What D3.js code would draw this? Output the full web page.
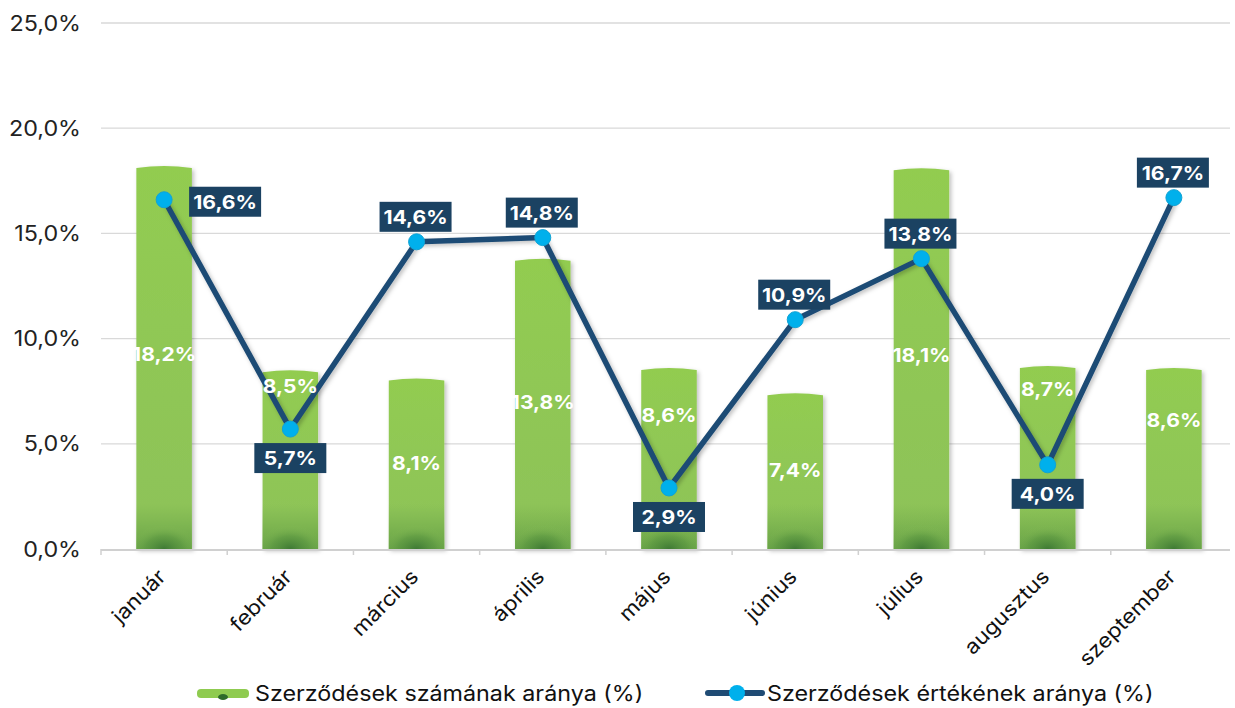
<!DOCTYPE html>
<html>
<head>
<meta charset="utf-8">
<script src="https://cdn.jsdelivr.net/npm/d3@7"></script>
<style>
  body { margin: 0; background: #fff; }
  svg text { font-family: Inter, "Liberation Sans", sans-serif; }
</style>
</head>
<body>
<svg id="chart" width="1235" height="708"></svg>
<script>
// adatok
var months = ['január', 'február', 'március', 'április', 'május', 'június', 'július', 'augusztus', 'szeptember'];
var countShare = [18.2, 8.5, 8.1, 13.8, 8.6, 7.4, 18.1, 8.7, 8.6];   // oszlopok
var valueShare = [16.6, 5.7, 14.6, 14.8, 2.9, 10.9, 13.8, 4.0, 16.7]; // vonal
var yTicks = [0, 5, 10, 15, 20, 25];
// címkék elhelyezése
var lineLabelSide = ['right', 'below', 'above', 'above', 'below', 'above', 'above', 'below', 'above'];
var barLabelAt = [9.27, 7.77, 4.09, 6.99, 6.37, 3.75, 9.22, 7.6, 6.13];

var svg = d3.select('#chart');
var left = 101;
var sx = 1.11;   // a szövegek kissé szélesebbek

var x = d3.scaleBand().domain(months).range([left, 1237]).paddingInner(0.56).paddingOuter(0.28);
var y = d3.scaleLinear().domain([0, 25]).range([549, 23]);
var fmt = function (v) { return v.toFixed(1).replace('.', ',') + '%'; };
var at = function (px, py) { return 'translate(' + px + ',' + py + ') scale(' + sx + ',1)'; };

var defs = svg.append('defs');
var grad = defs.append('linearGradient').attr('id', 'barGrad').attr('x1', 0).attr('y1', 0).attr('x2', 0).attr('y2', 1);
grad.append('stop').attr('offset', '0%').attr('stop-color', '#92cc50');
grad.append('stop').attr('offset', '100%').attr('stop-color', '#8dc25a');
var fade = defs.append('linearGradient').attr('id', 'barFade').attr('x1', 0).attr('y1', 0).attr('x2', 0).attr('y2', 1);
fade.append('stop').attr('offset', '0%').attr('stop-color', '#6aa446').attr('stop-opacity', 0);
fade.append('stop').attr('offset', '100%').attr('stop-color', '#5d9a42').attr('stop-opacity', 0.8);
var bottom = defs.append('radialGradient').attr('id', 'barBottom').attr('cx', 0.5).attr('cy', 1).attr('r', 0.6);
bottom.append('stop').attr('offset', '0%').attr('stop-color', '#3a7532').attr('stop-opacity', 0.9);
bottom.append('stop').attr('offset', '55%').attr('stop-color', '#4f8c3b').attr('stop-opacity', 0.4);
bottom.append('stop').attr('offset', '100%').attr('stop-color', '#8ec25a').attr('stop-opacity', 0);
var shadow = defs.append('filter').attr('id', 'shadow').attr('x', -0.2).attr('y', -0.2).attr('width', 1.4).attr('height', 1.4);
shadow.append('feDropShadow').attr('dx', 2).attr('dy', 2).attr('stdDeviation', 2).attr('flood-color', '#000').attr('flood-opacity', 0.25);

// rácsvonalak
svg.append('g').selectAll('line').data(yTicks.slice(1)).enter().append('line')
    .attr('x1', left).attr('x2', 1230)
    .attr('y1', function (d) { return y(d); }).attr('y2', function (d) { return y(d); })
    .attr('stroke', '#d9d9d9').attr('stroke-width', 1.3);

// y tengely
svg.append('g').selectAll('text').data(yTicks).enter().append('text')
    .attr('transform', function (d) { return at(81, y(d) + 7.5); })
    .attr('text-anchor', 'end').attr('font-size', 21).attr('fill', '#222')
    .text(fmt);

// oszlopok
var bars = svg.append('g').selectAll('g').data(months).enter().append('g');
bars.append('path')
    .attr('filter', 'url(#shadow)')
    .attr('fill', 'url(#barGrad)')
    .attr('d', function (m, i) {
        var x0 = x(m), w = x.bandwidth(), top = y(countShare[i]), b = y(0);
        return 'M' + x0 + ',' + b + 'L' + x0 + ',' + (top + 2) +
            'Q' + (x0 + w / 2) + ',' + (top - 2) + ' ' + (x0 + w) + ',' + (top + 2) +
            'L' + (x0 + w) + ',' + b + 'Z';
    });
bars.append('rect')
    .attr('x', function (m) { return x(m); })
    .attr('y', y(0) - 45)
    .attr('width', x.bandwidth()).attr('height', 45)
    .attr('fill', 'url(#barFade)');
bars.append('rect')
    .attr('x', function (m) { return x(m); })
    .attr('y', y(0) - 40)
    .attr('width', x.bandwidth()).attr('height', 40)
    .attr('fill', 'url(#barBottom)');

// x tengely
svg.append('line').attr('x1', left).attr('x2', 1230).attr('y1', y(0) + 1).attr('y2', y(0) + 1)
    .attr('stroke', '#d0d0d0').attr('stroke-width', 2);
var step = x.step();
svg.append('g').selectAll('line').data(d3.range(months.length + 1)).enter().append('line')
    .attr('x1', function (k) { return left + k * step; })
    .attr('x2', function (k) { return left + k * step; })
    .attr('y1', y(0)).attr('y2', y(0) + 6)
    .attr('stroke', '#d0d0d0').attr('stroke-width', 1.5);
svg.append('g').selectAll('text').data(months).enter().append('text')
    .attr('transform', function (m) {
        return 'translate(' + (x(m) + x.bandwidth() / 2 + 3) + ',' + 578 + ') rotate(-45) scale(1.1,1)';
    })
    .attr('text-anchor', 'end').attr('font-size', 20.5).attr('fill', '#111')
    .text(function (m) { return m; });

// vonal
var cx = function (i) { return x(months[i]) + x.bandwidth() / 2; };
var line = d3.line().x(function (d, i) { return cx(i); }).y(function (d) { return y(d); });
svg.append('path').datum(valueShare)
    .attr('d', line).attr('fill', 'none')
    .attr('stroke', '#1f4b74').attr('stroke-width', 5.5).attr('stroke-linejoin', 'round')
    .attr('filter', 'url(#shadow)');
svg.append('g').selectAll('circle').data(valueShare).enter().append('circle')
    .attr('cx', function (d, i) { return cx(i); })
    .attr('cy', function (d) { return y(d); })
    .attr('r', 8).attr('fill', '#00b0ec').attr('stroke', '#12a3d4').attr('stroke-width', 1);

// oszlop címkék (a vonal fölött)
svg.append('g').selectAll('text').data(months).enter().append('text')
    .attr('transform', function (m, i) { return at(x(m) + x.bandwidth() / 2, y(barLabelAt[i]) + 7); })
    .attr('text-anchor', 'middle').attr('font-size', 19).attr('font-weight', 'bold').attr('fill', '#fff')
    .text(function (m, i) { return fmt(countShare[i]); });

// vonal címkék
var lbl = svg.append('g').selectAll('g').data(valueShare).enter().append('g')
    .attr('transform', function (d, i) {
        var px = cx(i), py = y(d), s = lineLabelSide[i];
        if (s === 'right') return 'translate(' + (px + 61) + ',' + (py + 2) + ')';
        if (s === 'below') return 'translate(' + px + ',' + (py + 29) + ')';
        return 'translate(' + (px - 1) + ',' + (py - 25) + ')';
    });
lbl.append('rect').attr('x', -36).attr('y', -15).attr('width', 72).attr('height', 30).attr('fill', '#1b4262');
lbl.append('text').attr('transform', at(0, 7)).attr('text-anchor', 'middle')
    .attr('font-size', 19).attr('font-weight', 'bold').attr('fill', '#fff')
    .text(function (d) { return fmt(d); });

// jelmagyarázat
var leg = svg.append('g');
leg.append('rect').attr('x', 197).attr('y', 689).attr('width', 52).attr('height', 9).attr('rx', 4)
    .attr('fill', '#8fcb50');
leg.append('ellipse').attr('cx', 223).attr('cy', 697).attr('rx', 5).attr('ry', 3).attr('fill', '#2e6b2a');
leg.append('text').attr('transform', at(255, 701)).attr('font-size', 21).attr('fill', '#111')
    .text('Szerződések számának aránya (%)');
leg.append('line').attr('x1', 708).attr('x2', 762).attr('y1', 693).attr('y2', 693)
    .attr('stroke', '#1f4b74').attr('stroke-width', 6).attr('stroke-linecap', 'round');
leg.append('circle').attr('cx', 737).attr('cy', 693).attr('r', 8).attr('fill', '#00b0ec');
leg.append('text').attr('transform', at(767, 701)).attr('font-size', 21).attr('fill', '#111')
    .text('Szerződések értékének aránya (%)');
</script>
</body>
</html>
